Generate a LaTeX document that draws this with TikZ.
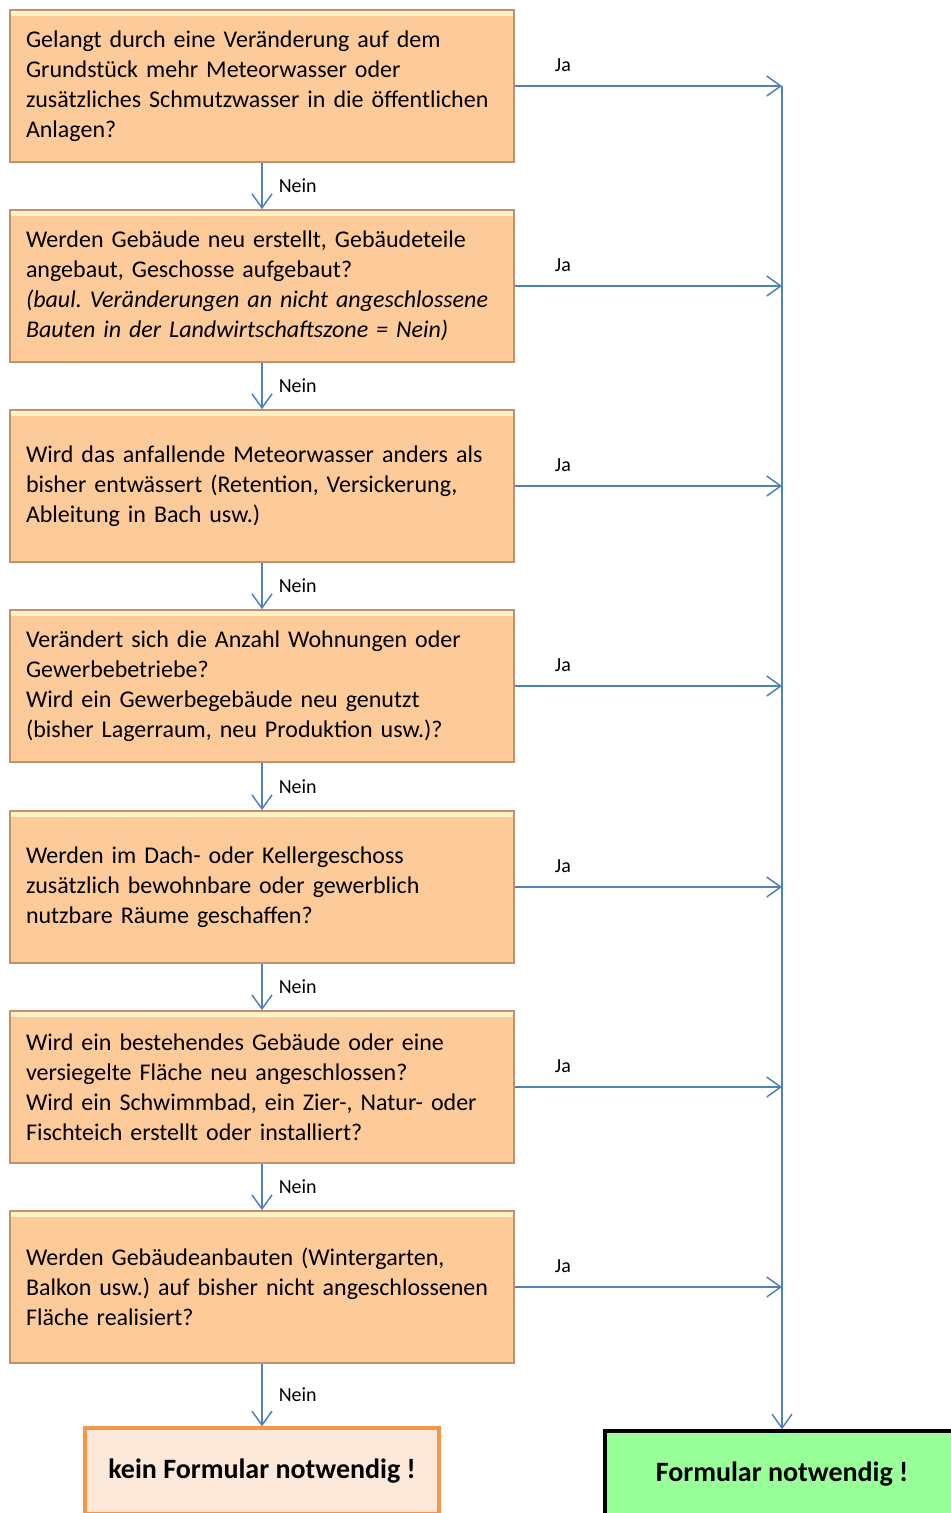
\documentclass[tikz,border=0pt]{standalone}
\usepackage{fontspec}
\setmainfont{Carlito}
\usetikzlibrary{arrows.meta, positioning}
\frenchspacing

\definecolor{boxfill}{HTML}{FCCB99}
\definecolor{boxlight}{HTML}{FEF1C6}
\definecolor{boxedge}{HTML}{C0926C}
\definecolor{flowblue}{HTML}{4F81BD}
\definecolor{keinfill}{HTML}{FDE9D9}
\definecolor{keinedge}{HTML}{F79646}
\definecolor{okfill}{HTML}{99FF99}

\begin{document}
\begin{tikzpicture}[
			x=0.5pt, y=-0.5pt,
			question/.style={
					draw=boxedge,
					fill=boxfill,
					line width=0.8pt,
					text width=236pt,
					minimum height=76pt,
					inner xsep=8pt,
					align=left,
					font=\fontsize{12}{15}\selectfont,
					path picture={
							\fill[boxlight] (path picture bounding box.north west)
							rectangle ([yshift=-3pt]path picture bounding box.north east);
						}
				},
			keinbox/.style={
					draw=keinedge,
					fill=keinfill,
					line width=1.6pt,
					minimum width=177pt,
					minimum height=43pt,
					font=\fontsize{14}{17}\selectfont\bfseries
				},
			okbox/.style={
					draw=black,
					fill=okfill,
					line width=1.6pt,
					minimum width=177pt,
					minimum height=43pt,
					font=\fontsize{14}{17}\selectfont\bfseries
				},
			flow/.style={
			-{Straight Barb[length=7pt,width=10pt]},
			draw=flowblue,
			line width=0.75pt
			},
			lab/.style={
					font=\fontsize{10}{12}\selectfont,
					inner sep=0pt
				}
			]

			\path[use as bounding box, clip] (0,0) rectangle (951,1513);

			% ================= Fragen =================
			\node[question] (q1) at (262,86) {Gelangt durch eine Veränderung auf dem\\Grundstück mehr Meteorwasser oder\\zusätzliches Schmutzwasser in die öffentlichen\\Anlagen?};
			\node[question] (q2) at (262,286) {Werden Gebäude neu erstellt, Gebäudeteile\\angebaut, Geschosse aufgebaut?\\\textit{(baul. Veränderungen an nicht angeschlossene}\\\textit{Bauten in der Landwirtschaftszone = Nein)}};
			\node[question] (q3) at (262,486) {Wird das anfallende Meteorwasser anders als\\bisher entwässert (Retention, Versickerung,\\Ableitung in Bach usw.)};
			\node[question] (q4) at (262,686) {Verändert sich die Anzahl Wohnungen oder\\Gewerbebetriebe?\\Wird ein Gewerbegebäude neu genutzt\\(bisher Lagerraum, neu Produktion usw.)?};
			\node[question] (q5) at (262,887) {Werden im Dach- oder Kellergeschoss\\zusätzlich bewohnbare oder gewerblich\\nutzbare Räume geschaffen?};
			\node[question] (q6) at (262,1087) {Wird ein bestehendes Gebäude oder eine\\versiegelte Fläche neu angeschlossen?\\Wird ein Schwimmbad, ein Zier-, Natur- oder\\Fischteich erstellt oder installiert?};
			\node[question] (q7) at (262,1287) {Werden Gebäudeanbauten (Wintergarten,\\Balkon usw.) auf bisher nicht angeschlossenen\\Fläche realisiert?};

			% ================= Ergebnisse =================
			\node[keinbox] (kein) at (262,1471) {kein Formular notwendig !};
			\node[okbox]   (formular) at (782,1474) {Formular notwendig !};

			% ================= Nein-Pfeile =================
			\draw[flow] (q1.south) -- (q2.north) node[midway, right=8pt, lab] {Nein};
			\draw[flow] (q2.south) -- (q3.north) node[midway, right=8pt, lab] {Nein};
			\draw[flow] (q3.south) -- (q4.north) node[midway, right=8pt, lab] {Nein};
			\draw[flow] (q4.south) -- (q5.north) node[midway, right=8pt, lab] {Nein};
			\draw[flow] (q5.south) -- (q6.north) node[midway, right=8pt, lab] {Nein};
			\draw[flow] (q6.south) -- (q7.north) node[midway, right=8pt, lab] {Nein};
			\draw[flow] (q7.south) -- (kein.north) node[midway, right=8pt, lab] {Nein};

			% ================= Ja-Pfeile zur Sammelleitung =================
			\draw[flow] (q1.east) -- (q1.east -| formular.north) node[pos=0.18, above=7pt, lab] {Ja};
			\draw[flow] (q2.east) -- (q2.east -| formular.north) node[pos=0.18, above=7pt, lab] {Ja};
			\draw[flow] (q3.east) -- (q3.east -| formular.north) node[pos=0.18, above=7pt, lab] {Ja};
			\draw[flow] (q4.east) -- (q4.east -| formular.north) node[pos=0.18, above=7pt, lab] {Ja};
			\draw[flow] (q5.east) -- (q5.east -| formular.north) node[pos=0.18, above=7pt, lab] {Ja};
			\draw[flow] (q6.east) -- (q6.east -| formular.north) node[pos=0.18, above=7pt, lab] {Ja};
			\draw[flow] (q7.east) -- (q7.east -| formular.north) node[pos=0.18, above=7pt, lab] {Ja};

			% Sammelleitung nach unten zum Formular
			\draw[flow] (q1.east -| formular.north) -- (formular.north);

		\end{tikzpicture}
\end{document}
